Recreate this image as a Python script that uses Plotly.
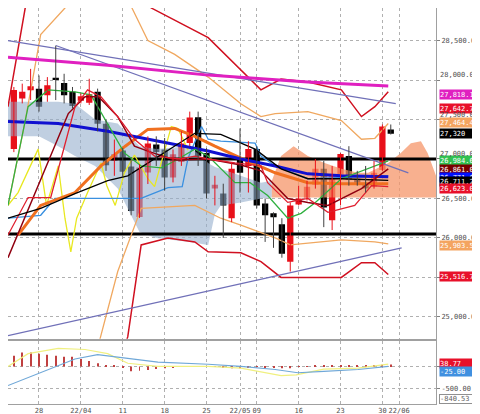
import plotly.graph_objects as go
from plotly.subplots import make_subplots

# candles, index 0 = 2022-03-23
opens = [27125, 27766, 27871, 27891, 27808, 28029, 27962, 27850, 27737, 27712,
         27850, 27446, 26975, 27109, 26904, 26266, 26829, 27183, 27121, 26766,
         26962, 27204, 27529, 27075, 26625, 26562, 26250, 27000, 26912, 27125,
         26437, 26312, 26175, 25700, 26425, 26512, 26675, 26875, 26225, 26800,
         27037, 26750, 26700, 26650, 26862, 27375]
highs = [27912, 27954, 28141, 28058, 28037, 28434, 28079, 27912, 27829, 28016,
         27891, 27496, 27246, 27141, 26996, 26933, 27287, 27287, 27266, 27121,
         27350, 27600, 27600, 27137, 26787, 26687, 26950, 27387, 27225, 27162,
         26500, 26325, 26250, 26450, 26662, 26725, 27000, 26975, 26912, 27075,
         27162, 26850, 26912, 26975, 27437, 27437]
lows = [27087, 27704, 27746, 27600, 27725, 27746, 27704, 27641, 27704, 27684,
        27350, 26850, 26787, 26766, 26287, 26254, 26683, 26912, 26600, 26704,
        26912, 27162, 26912, 26500, 26412, 26000, 26200, 26575, 26575, 26375,
        25950, 25875, 25750, 25575, 26412, 26475, 26625, 26137, 26100, 26412,
        26662, 26662, 26575, 26625, 26850, 27310]
closes = [27875, 27850, 27921, 27662, 27933, 28012, 27808, 27671, 27796, 27821,
          27446, 26921, 27059, 26837, 26341, 26891, 27196, 27087, 26766, 27059,
          27196, 27525, 27037, 26562, 26675, 26412, 26875, 26825, 27125, 26412,
          26287, 26262, 25800, 26412, 26500, 26650, 26875, 26387, 26800, 27062,
          26737, 26700, 26625, 26825, 27412, 27320]

tick_idx = [3, 8, 13, 18, 23, 27, 29, 34, 39, 44, 46]
tick_text = ["28", "22/04", "11", "18", "25", "22/05", "09", "16", "23", "30", "22/06"]

# overlay lines as (index, value)
bb3_up = [(-0.7, 27662), (1.5, 29000), (10, 29500), (16.4, 28912), (23.2, 28537), (27.1, 28125),
          (29.5, 27875), (31.9, 28012), (35.1, 27975), (39.1, 27875), (41.5, 27537), (43.1, 27662), (44.7, 27850)]
bb3_dn = [(11, 23800), (13.6, 24750), (15.2, 25912), (18.4, 26000), (21.6, 25950), (23.2, 25825),
          (27.1, 25812), (29.5, 25700), (31.9, 25500), (35.1, 25500), (39.1, 25500), (41.5, 25687),
          (43.1, 25687), (44.7, 25537)]
bb2_up = [(-0.7, 26412), (1.3, 27450), (3.2, 28575), (6.1, 28912), (9, 29300), (12, 29300), (14.1, 28912),
          (16, 28500), (19.2, 28325), (23.2, 28037), (27.1, 27700), (29.5, 27537), (31.2, 27575),
          (35.1, 27600), (39.1, 27487), (41.5, 27250), (43.1, 27262), (44.7, 27450)]
bb2_dn = [(8.5, 24000), (10.4, 24750), (12.4, 25575), (15.2, 26375), (21.6, 26412), (24.7, 26250),
          (27.1, 26162), (31.2, 26000), (33, 25912), (39.1, 25975), (43.1, 25950), (44.7, 25925)]
magenta = [(-0.7, 28287), (11.2, 28187), (23.2, 28062), (35.1, 27975), (44.7, 27925)]
trend1 = [(-0.7, 28500), (45.6, 27700)]
trend2 = [(5, 28437), (47.1, 26825)]
trend3 = [(-0.7, 24762), (46.3, 25875)]
ma_blue = [(-0.7, 27475), (5.3, 27450), (11.2, 27350), (17.2, 27225), (23.2, 27100), (27.1, 27000),
           (31.2, 26912), (35.1, 26812), (39.1, 26787), (44.7, 26775)]
ma_orange = [(0.5, 26037), (3.2, 26412), (7.3, 26575), (10.4, 26912), (13.3, 27162), (16, 27375),
             (19.2, 27387), (21.6, 27287), (24, 27162), (27.1, 27012), (31.2, 26825), (35.1, 26700),
             (39.1, 26687), (44.7, 26687)]
ma_black = [(-0.7, 26250), (3.2, 26375), (7.3, 26562), (11.2, 26725), (13.6, 26787), (16, 26950),
            (19.2, 27162), (21.6, 27325), (24.7, 27312), (28.8, 27125), (31.9, 26875), (35.1, 26750),
            (39.1, 26750), (44.7, 26730)]
green = [(-0.7, 26412), (1.7, 27662), (4.1, 27875), (7.3, 27850), (9.2, 27812), (11.2, 27450), (13.2, 27075),
         (15.2, 26912), (17.6, 26887), (19.2, 26975), (21.6, 27125), (23.2, 27037), (26.4, 26700), (28.2, 26700),
         (30.3, 26537), (32.7, 26250), (34.3, 26312), (36, 26450), (39.1, 26750), (44.7, 26975)]
tenkan = [(-0.7, 26037), (1.7, 26512), (4.4, 26512), (7.3, 27662), (8.8, 27875), (10.4, 27787), (12.4, 27537),
          (14.4, 27250), (16.8, 27037), (19.9, 27000), (21.6, 27037), (23.2, 27000), (26.4, 26950), (29.5, 26912),
          (30.3, 26700), (32.7, 26450), (35.1, 26500), (37.5, 26325), (40.7, 26412), (42.7, 26662), (44.7, 26650)]
darkred = [(-0.7, 25750), (3.2, 26750), (6.5, 27575), (8.5, 27787), (10.1, 27787), (12.4, 27537), (14.4, 27162),
           (16, 27100), (19.2, 26987), (23.2, 27000), (27.1, 26925), (29.5, 26850), (32.7, 26500), (35.1, 26450),
           (37.5, 26412), (41.5, 26625), (44.7, 26875)]
lightblue = [(-0.7, 26250), (3.2, 26287), (4.9, 26500), (15.2, 26500), (16, 26537), (18.4, 26637), (20.1, 26650),
             (20.8, 27012), (22.4, 27412), (23.2, 27250), (24.7, 27225), (28.8, 27200), (29.5, 27037), (31.2, 26912),
             (35.1, 26750), (44.7, 26787)]
chikou = [(-0.7, 26412), (0.5, 26575), (2.9, 27125), (3.9, 26412), (5.3, 26912), (6.1, 26250), (6.8, 25825),
          (7.5, 26250), (8.8, 26575), (10.4, 26950), (11.1, 26662), (12.1, 26412), (13.2, 26825), (14.4, 27050),
          (16, 26750), (16.8, 26650), (18.8, 27412), (19.6, 27387), (20.8, 27112)]

cloud_x = [-0.7, 1, 3, 5.3, 7.3, 9.7, 12.4, 15, 17, 21, 23.2, 24, 24.7, 27.1, 29.5, 30.8, 31.9, 33.4, 35.1,
           37.1, 39.1, 41.1, 42.3, 44.7, 46.2, 47.4, 48.6, 49.4, 50.4]
span_a = [27725, 27725, 27725, 27725, 27700, 27500, 27450, 27162, 27125, 27162, 26950, 26900, 26875, 26787,
          26700, 26725, 27037, 27162, 27037, 26950, 26875, 26825, 26825, 26950, 27075, 27200, 27225, 27075, 26787]
span_b = [27287, 27287, 27287, 27162, 27037, 26912, 26625, 26075, 26000, 25950, 25912, 26300, 26412, 26450,
          26500, 26512, 26512, 26512, 26512, 26512, 26512, 26512, 26512, 26512, 26512, 26512, 26512, 26512, 26512]
cloud_switch = 30.8

levels = [27000, 26050]

macd_hist = [238, 310, 310, 286, 262, 238, 214, 214, 167, 119, 71, 30, 10, -20, -110, -100, -80, -60, -40, -20,
             -10, 5, 5, 0, -10, -30, -40, -40, -20, -10, -20, -30, -40, -40, -10, 5, 10, 10, 15, 20, 25, 25,
             30, 30, 35, 40]
macd = [(-0.7, 0), (1.7, 286), (5.3, 405), (8.5, 380), (11.2, 286), (13.6, 71), (17.2, 0), (23.2, 0),
        (27.1, -40), (31.9, -207), (33.7, -190), (37, -60), (41.1, -40), (44.7, 50)]
signal = [(-0.7, -430), (3.2, -143), (7.3, 167), (10, 262), (13.3, 190), (17.2, 95), (23.2, 48), (27.1, 0),
          (31.2, -70), (33.9, -143), (37, -110), (41.1, -70), (44.7, 0)]

price_labels = [(27818.15, "#e020c0"), (27642.74, "#e8102a"), (27464.49, "#f4a460"), (27320.00, "#000000"),
                (26984.60, "#30c050"), (26861.00, "#7a0000"), (26771.60, "#0010ff"), (26711.20, "#000000"),
                (26623.00, "#e8102a"), (25903.51, "#f4a460"), (25516.78, "#e8102a")]
sub_labels = [(60.0, "#e8102a", "38.77"), (-110.0, "#4090e0", "-25.00")]

UP, DOWN = "#e8101a", "#000000"

fig = make_subplots(rows=2, cols=1, shared_xaxes=True, row_heights=[0.84, 0.16], vertical_spacing=0.006)


def add_line(pts, color, width, row=1, dash=None):
    fig.add_trace(go.Scatter(x=[p[0] for p in pts], y=[p[1] for p in pts], mode="lines",
                             line=dict(color=color, width=width, dash=dash), hoverinfo="skip",
                             showlegend=False), row=row, col=1)


# ichimoku cloud, two colours
for keep, fill in [(lambda x: x <= cloud_switch, "rgba(150,175,205,0.6)"),
                   (lambda x: x >= cloud_switch, "rgba(245,150,105,0.75)")]:
    xs = [x for x in cloud_x if keep(x)]
    a = [v for x, v in zip(cloud_x, span_a) if keep(x)]
    b = [v for x, v in zip(cloud_x, span_b) if keep(x)]
    fig.add_trace(go.Scatter(x=xs, y=b, mode="lines", line=dict(width=0), hoverinfo="skip",
                             showlegend=False), row=1, col=1)
    fig.add_trace(go.Scatter(x=xs, y=a, mode="lines", line=dict(width=0), fill="tonexty",
                             fillcolor=fill, hoverinfo="skip", showlegend=False), row=1, col=1)

for lv in levels:
    add_line([(-0.7, lv), (50.4, lv)], "black", 3)

add_line(chikou, "#e8e820", 1.3)
add_line(bb2_up, "#f0a860", 1.3)
add_line(bb2_dn, "#f0a860", 1.3)
add_line(bb3_up, "#d01020", 1.5)
add_line(bb3_dn, "#d01020", 1.5)
add_line(trend1, "#7070b8", 1.3)
add_line(trend2, "#7070b8", 1.3)
add_line(trend3, "#7070b8", 1.3)
add_line(magenta, "#e020c0", 3)
add_line(lightblue, "#3a90e0", 1.3)
add_line(ma_orange, "#f07020", 3)
add_line(ma_blue, "#1010d0", 3)
add_line(green, "#30b040", 1.3)
add_line(darkred, "#900010", 1.5)
add_line(tenkan, "#e02030", 1.3)
add_line(ma_black, "#000000", 1.3)

# candles: wicks as segments, bodies as bars
idx = list(range(len(opens)))
for up in (True, False):
    wx, wy = [], []
    for i in idx:
        if (closes[i] >= opens[i]) == up:
            wx += [i, i, None]
            wy += [lows[i], highs[i], None]
    fig.add_trace(go.Scatter(x=wx, y=wy, mode="lines", line=dict(color="#404040" if not up else UP, width=1),
                             hoverinfo="skip", showlegend=False), row=1, col=1)
body_base = [min(o, c) for o, c in zip(opens, closes)]
body_h = [max(abs(c - o), 18) for o, c in zip(opens, closes)]
body_col = [UP if c >= o else DOWN for o, c in zip(opens, closes)]
fig.add_trace(go.Bar(x=idx, y=body_h, base=body_base, width=0.75, marker=dict(color=body_col, line=dict(width=0)),
                     hoverinfo="skip", showlegend=False), row=1, col=1)

# lower panel
fig.add_trace(go.Bar(x=idx, y=macd_hist, width=0.12, marker=dict(color="#c04040", line=dict(width=0)),
                     hoverinfo="skip", showlegend=False), row=2, col=1)
add_line(macd, "#f0f080", 1.2, row=2)
add_line(signal, "#70a8d8", 1.2, row=2)

grid = dict(showgrid=True, gridcolor="#b0b0b0", griddash="dot", gridwidth=1)
fig.update_xaxes(range=[-0.7, 50.4], tickvals=tick_idx, ticktext=tick_text, tickangle=0,
                 showline=True, linecolor="#a0a0a0", mirror=True, ticks="", tickfont=dict(size=7), **grid)
fig.update_xaxes(showticklabels=False, row=1, col=1)
fig.update_yaxes(side="right", showline=True, linecolor="#a0a0a0", mirror=True, ticks="outside",
                 ticklen=3, tickcolor="#808080", zeroline=False, tickfont=dict(size=7), **grid)
fig.update_yaxes(range=[24725, 28912], tickvals=[25000, 25500, 26000, 26500, 27000, 27500, 28000, 28500],
                 ticktext=["25,000.00", "", "26,000.00", "26,500.00", "", "", "", "28,500.00"],
                 row=1, col=1)
fig.update_yaxes(range=[-845, 570], tickvals=[0, -500], ticktext=["", "-500.00"], row=2, col=1)

lab_font = dict(color="white", size=7, family="DejaVu Sans Mono")
anns = []
for v, c in price_labels:
    anns.append(dict(xref="paper", yref="y", x=1.008, y=v, xanchor="left", yanchor="middle",
                     text=f"{v:,.2f}" if v != 27320 else "27,320", showarrow=False, bgcolor=c,
                     font=lab_font, width=44, height=9, align="left", borderpad=0))
# grey tick-style labels that sit on the same rows as the boxes
for v in [27000, 27500, 28000]:
    anns.append(dict(xref="paper", yref="y", x=1.008, y=v, xanchor="left", yanchor="bottom",
                     text=f"{v:,.2f}", showarrow=False, font=dict(size=7, color="#505050"),
                     width=44, height=8, align="left", borderpad=0))
for v, c, t in sub_labels:
    anns.append(dict(xref="paper", yref="y2", x=1.008, y=v, xanchor="left", yanchor="middle",
                     text=t, showarrow=False, bgcolor=c, font=lab_font, width=44, height=9,
                     align="left", borderpad=0))
anns.append(dict(xref="paper", yref="y2", x=1.008, y=-845, xanchor="left", yanchor="bottom",
                 text="-840.53", showarrow=False, bgcolor="white", bordercolor="#909090",
                 font=dict(color="#606060", size=7), width=44, height=8, align="left", borderpad=0))
anns.append(dict(xref="paper", yref="paper", x=1.11, y=0.14, xanchor="right", text="▼", showarrow=False,
                 font=dict(size=7, color="#404040")))

fig.update_layout(
    width=480, height=414, margin=dict(l=0, r=52, t=0, b=18),
    paper_bgcolor="white", plot_bgcolor="white", barmode="overlay",
    font=dict(family="DejaVu Sans Mono", size=7, color="#505050"),
    annotations=anns,
)

fig.write_html("out.html")
